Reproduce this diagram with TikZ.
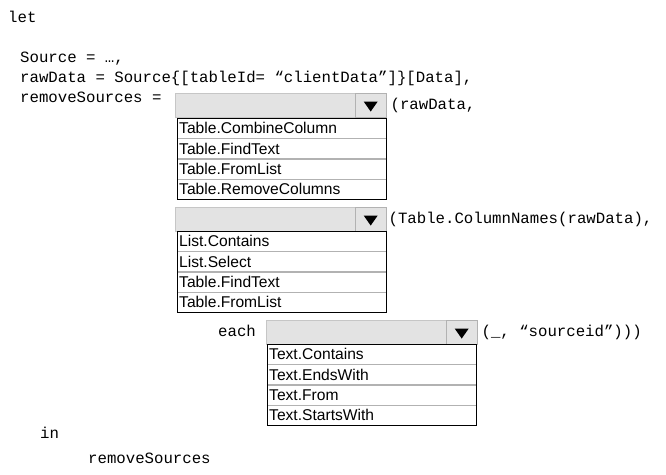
\documentclass[tikz,border=0pt]{standalone}
\usepackage{fontspec}
\setmainfont{Liberation Sans}
\setmonofont{Liberation Mono}
\usetikzlibrary{positioning, shapes.geometric}

\begin{document}
\begin{tikzpicture}[x=1pt, y=-1pt]
% Define styles
\tikzstyle{code} = [anchor=base west, inner sep=0pt, font=\ttfamily\fontsize{15.7}{15.7}\selectfont]
\tikzstyle{combo} = [rectangle, fill=gray!22, draw=gray!45, minimum width=211pt, minimum height=24pt, anchor=north west, inner sep=0pt]
\tikzstyle{button} = [rectangle, draw=gray!60, fill=gray!22, minimum width=31pt, minimum height=24pt, anchor=north east, inner sep=0pt]
\tikzstyle{arrowtip} = [isosceles triangle, shape border rotate=-90, isosceles triangle apex angle=70, fill=black, minimum height=10pt, inner sep=0pt]
\tikzstyle{item} = [rectangle, draw=gray!60, minimum width=209pt, minimum height=20pt, text width=205pt, anchor=north west, inner sep=2pt, font=\fontsize{15.6}{15.6}\selectfont]
\tikzstyle{frame} = [draw=black, line width=0.8pt]
\useasboundingbox (0,0) rectangle (666,474);
    % Code lines
    \node [code] (let) at (8,22) {let};
    \node [code] (src) at (20,62) {Source = …,};
    \node [code] (raw) at (20,82) {rawData = Source\{[tableId= “clientData”]\}[Data],};
    \node [code] (rem) at (20,102) {removeSources =};
    \node [code] (each) at (218,336) {each};
    \node [code] (in) at (40,438) {in};
    \node [code] (res) at (88,463) {removeSources};
    % First dropdown
    \node [combo] (comboA) at (175,93) {};
    \node [button] (btnA) at (comboA.north east) {};
    \node [arrowtip] at (btnA) {};
    \node [code, right=4pt of comboA.east, anchor=west] (argA) {(rawData,};
    \node [item] (a1) at (177,118) {Table.CombineColumn};
    \node [item, below=0pt of a1] (a2) {Table.FindText};
    \node [item, below=0pt of a2] (a3) {Table.FromList};
    \node [item, below=0pt of a3] (a4) {Table.RemoveColumns};
    \draw [frame] (a1.north west) rectangle (a4.south east);
    % Second dropdown
    \node [combo] (comboB) at (175,207) {};
    \node [button] (btnB) at (comboB.north east) {};
    \node [arrowtip] at (btnB) {};
    \node [code, right=2pt of comboB.east, anchor=west] (argB) {(Table.ColumnNames(rawData),};
    \node [item] (b1) at (177,231) {List.Contains};
    \node [item, below=0pt of b1] (b2) {List.Select};
    \node [item, below=0pt of b2] (b3) {Table.FindText};
    \node [item, below=0pt of b3] (b4) {Table.FromList};
    \draw [frame] (b1.north west) rectangle (b4.south east);
    % Third dropdown
    \node [combo] (comboC) at (266,320) {};
    \node [button] (btnC) at (comboC.north east) {};
    \node [arrowtip] at (btnC) {};
    \node [code, right=4pt of comboC.east, anchor=west] (argC) {(\_, “sourceid”)))};
    \node [item] (c1) at (267,344) {Text.Contains};
    \node [item, below=0pt of c1] (c2) {Text.EndsWith};
    \node [item, below=0pt of c2] (c3) {Text.From};
    \node [item, below=0pt of c3] (c4) {Text.StartsWith};
    \draw [frame] (c1.north west) rectangle (c4.south east);
\end{tikzpicture}
\end{document}
